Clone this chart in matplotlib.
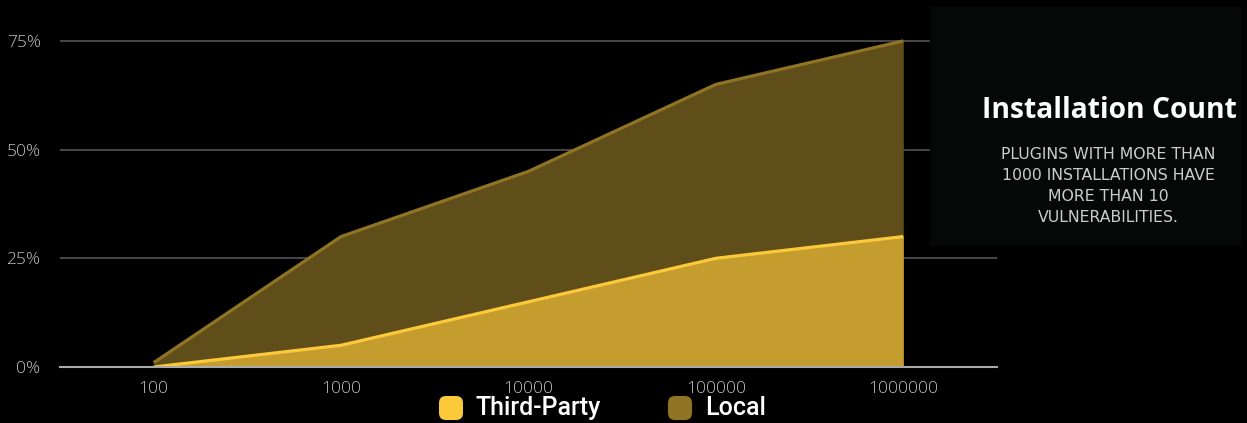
import matplotlib.pyplot as plt
from matplotlib.patches import FancyBboxPatch

# data
categories = ["100", "1000", "10000", "100000", "1000000"]
third_party = [0, 5, 15, 25, 30]
local = [1, 30, 45, 65, 75]
y_ticks = [0, 25, 50, 75]

fig = plt.figure(figsize=(12.47, 4.23), dpi=100, facecolor="black")
ax = fig.add_axes([60 / 1247, (423 - 367) / 423, (997 - 60) / 1247, 367 / 423])
ax.set_facecolor("black")

x = list(range(len(categories)))
ax.fill_between(x, 0, local, color="#5f4d1a", zorder=2, linewidth=0)
ax.plot(x, local, color="#8f7424", linewidth=2.3, zorder=3, solid_capstyle="butt")
ax.fill_between(x, 0, third_party, color="#c49d2e", zorder=4, linewidth=0)
ax.plot(x, third_party, color="#fcc93a", linewidth=2.3, zorder=5, solid_capstyle="butt")

ax.set_xlim(-0.5, 4.5)
ax.set_ylim(0, 367 / 108.7 * 25)
ax.set_xticks(x)
ax.set_xticklabels(categories)
ax.set_yticks(y_ticks)
ax.set_yticklabels([f"{t}%" for t in y_ticks])
ax.tick_params(colors="#c0c0c0", labelsize=12.5, length=0)
for lbl in ax.get_xticklabels() + ax.get_yticklabels():
    lbl.set_fontfamily("Open Sans")
    lbl.set_fontweight("light")
    lbl.set_color("#c0c0c0")
ax.xaxis.set_tick_params(pad=10)
ax.yaxis.set_tick_params(pad=14)
ax.grid(axis="y", color="#555555", linewidth=1.2, zorder=1)
ax.set_axisbelow(True)
for s in ["top", "right", "left"]:
    ax.spines[s].set_visible(False)
ax.spines["bottom"].set_color("#aaaaaa")
ax.spines["bottom"].set_linewidth(1.5)
ax.spines["bottom"].set_zorder(6)

# overlay in pixel coordinates for panel and legend
ov = fig.add_axes([0, 0, 1, 1], zorder=10)
ov.set_xlim(0, 1247)
ov.set_ylim(423, 0)
ov.axis("off")
ov.patch.set_alpha(0)

ov.add_patch(plt.Rectangle((930, 7), 310, 238, color="#060807"))
ov.text(1109, 110, "Installation Count", color="white", fontsize=20.3,
        fontweight="bold", fontfamily="Open Sans", ha="center", va="center")
sub = "PLUGINS WITH MORE THAN\n1000 INSTALLATIONS HAVE\nMORE THAN 10\nVULNERABILITIES."
ov.text(1108, 186, sub, color="#cccccc", fontsize=11.3, fontfamily="DejaVu Sans",
        ha="center", va="center", linespacing=1.5)

# legend
legend_items = [("Third-Party", "#fcc93a", 451), ("Local", "#8f7424", 680)]
for name, col, px in legend_items:
    ov.add_patch(FancyBboxPatch((px - 12, 396), 24, 24,
                                boxstyle="round,pad=0,rounding_size=7",
                                color=col, linewidth=0))
    ov.text(px + 25, 408, name, color="white", fontsize=18,
            fontfamily="Roboto", fontweight="medium", ha="left", va="center")

fig.savefig("out.png", dpi=100, facecolor="black")
